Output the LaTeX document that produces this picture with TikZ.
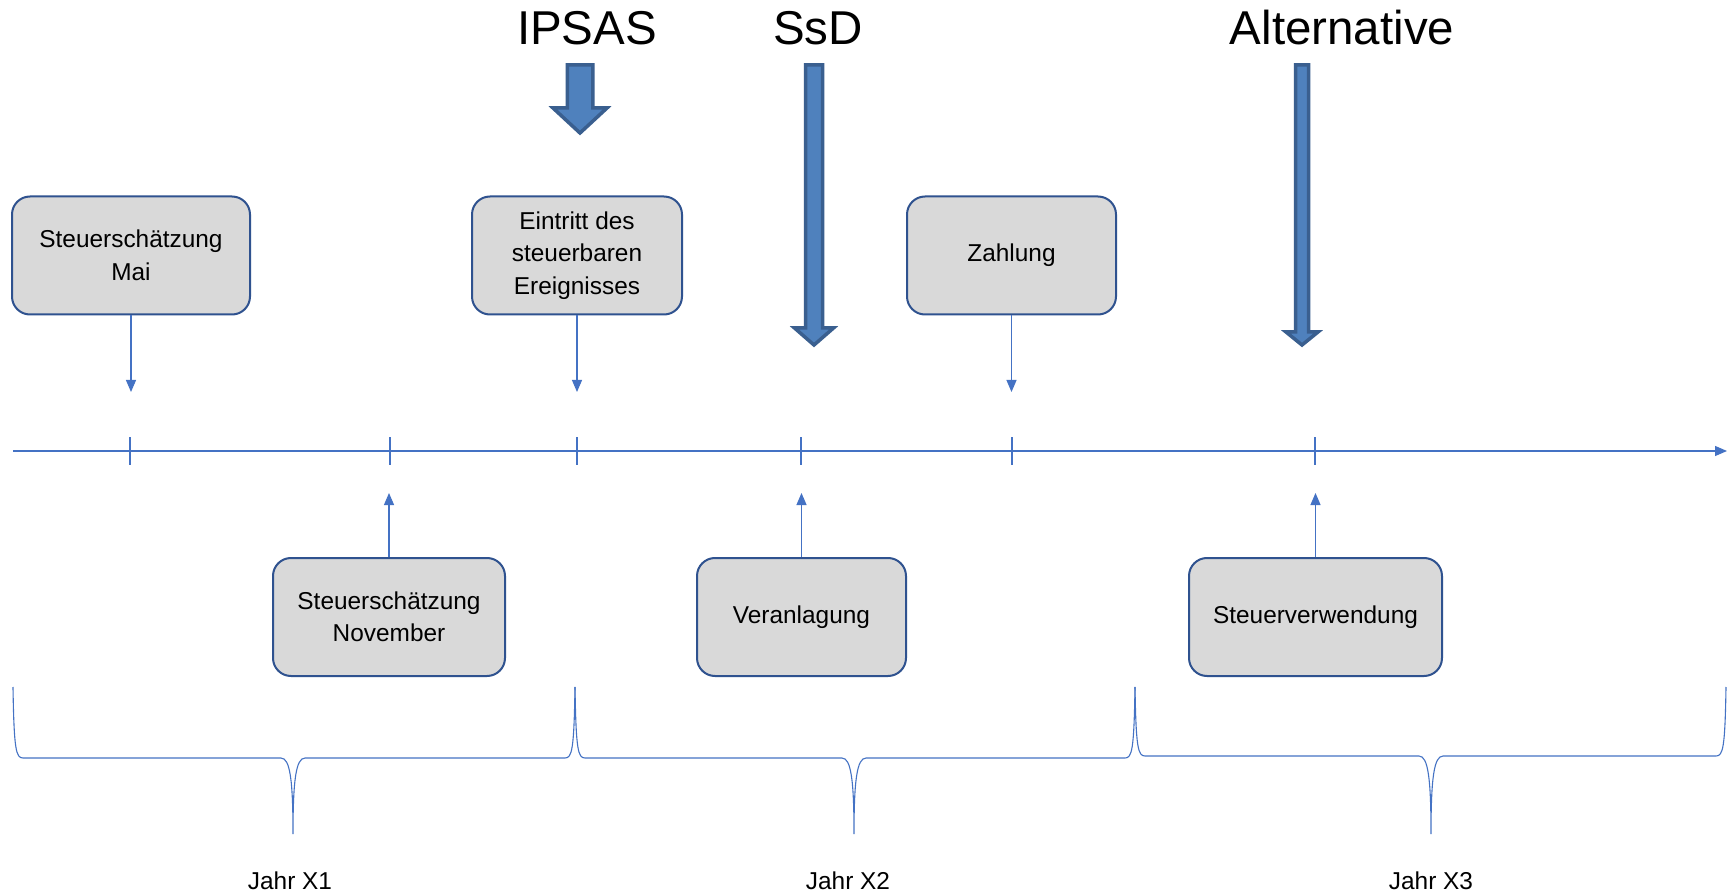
\documentclass[tikz,border=0pt]{standalone}
\usepackage{fontspec}
\setmainfont{Liberation Sans}
\usetikzlibrary{arrows.meta}
\definecolor{lineblue}{HTML}{4472C4}
\definecolor{boxborder}{HTML}{2F528F}
\definecolor{boxgray}{HTML}{D9D9D9}
\definecolor{bigfill}{HTML}{4F81BD}
\definecolor{bigedge}{HTML}{3A5F8F}
\newcommand\yearbrace[6]{% xL xR xC yTop yBar yTip
  \draw[bracestyle] (#1,#4) .. controls (#1+1,#5-8) and (#1+3,#5) .. (#1+10,#5)
    -- (#3-12,#5) .. controls (#3-3,#5) and (#3,#5+22) .. (#3,#6)
    .. controls (#3,#5+22) and (#3+3,#5) .. (#3+12,#5)
    -- (#2-10,#5) .. controls (#2-3,#5) and (#2-1,#5-8) .. (#2,#4);}
\newcommand\bigdownarrow[7]{% cx shaftHalf headHalf yTop yBase yTip
  \draw[bigarrowstyle] (#1-#2,#4) -- (#1+#2,#4) -- (#1+#2,#5) -- (#1+#3,#5)
    -- (#1,#6) -- (#1-#3,#5) -- (#1-#2,#5) -- cycle;}
\begin{document}
\begin{tikzpicture}[x=1pt,y=-1pt,
  box/.style={draw=boxborder, line width=2pt, fill=boxgray, rounded corners=18pt,
    minimum height=118pt, inner sep=0pt, align=center,
    font=\fontsize{24.4}{32.5}\selectfont},
  conn/.style={draw=lineblue, line width=1.1pt, -{Triangle[length=12pt,width=10pt]}},
  tick/.style={draw=lineblue, line width=1.1pt},
  bracestyle/.style={draw=lineblue, line width=1.1pt},
  bigarrowstyle/.style={fill=bigfill, draw=bigedge, line width=3.5pt, line join=miter},
  title/.style={anchor=base, inner sep=0pt, font=\fontsize{47.5}{50}\selectfont},
  yearlabel/.style={anchor=base, inner sep=0pt, font=\fontsize{24.4}{28}\selectfont}]
\useasboundingbox[fill=white] (0,0) rectangle (1733,893);

% titles
\node[title] (ipsas) at (587,45) {IPSAS};
\node[title] (ssd) at (818,45) {SsD};
\node[title] (alt) at (1342,45) {Alternative};

% big arrows
\bigdownarrow{580}{12.75}{27}{65}{108}{133}{}
\bigdownarrow{814}{8.5}{19.5}{65}{328}{345}{}
\bigdownarrow{1302}{6.5}{16}{65}{332}{345}{}

% boxes
\node[box, minimum width=238pt] (mai) at (131,255.5) {Steuerschätzung\\Mai};
\node[box, minimum width=210pt] (eintritt) at (577,255.5) {Eintritt des\\steuerbaren\\Ereignisses};
\node[box, minimum width=209pt] (zahlung) at (1011.5,255.5) {Zahlung};
\node[box, minimum width=232pt] (november) at (389,617) {Steuerschätzung\\November};
\node[box, minimum width=209pt] (veranlagung) at (801.5,617) {Veranlagung};
\node[box, minimum width=253pt] (verwendung) at (1315.5,617) {Steuerverwendung};

% timeline
\coordinate (tlS) at (13,451);
\coordinate (tlE) at (1727,451);
\draw[conn] (tlS) -- (tlE);
\foreach \x in {130,390,577,801,1012,1315}{
  \draw[tick] (\x,437) -- (\x,465);
}

% connectors
\coordinate (maiT) at (131,392);
\coordinate (eintrittT) at (577,392);
\coordinate (zahlungT) at (1011.5,392);
\coordinate (novemberT) at (389,493);
\coordinate (veranlagungT) at (801.5,493);
\coordinate (verwendungT) at (1315.5,493);
\draw[conn] (mai.south) -- (maiT);
\draw[conn] (eintritt.south) -- (eintrittT);
\draw[conn] (zahlung.south) -- (zahlungT);
\draw[conn] (november.north) -- (novemberT);
\draw[conn] (veranlagung.north) -- (veranlagungT);
\draw[conn] (verwendung.north) -- (verwendungT);

% braces
\yearbrace{13}{575}{293}{687}{758}{834}
\yearbrace{575}{1135}{854}{687}{758}{834}
\yearbrace{1135}{1726}{1431}{687}{756}{834}

% year labels
\node[yearlabel] (j1) at (290,889) {Jahr X1};
\node[yearlabel] (j2) at (848,889) {Jahr X2};
\node[yearlabel] (j3) at (1431,889) {Jahr X3};
\end{tikzpicture}
\end{document}
